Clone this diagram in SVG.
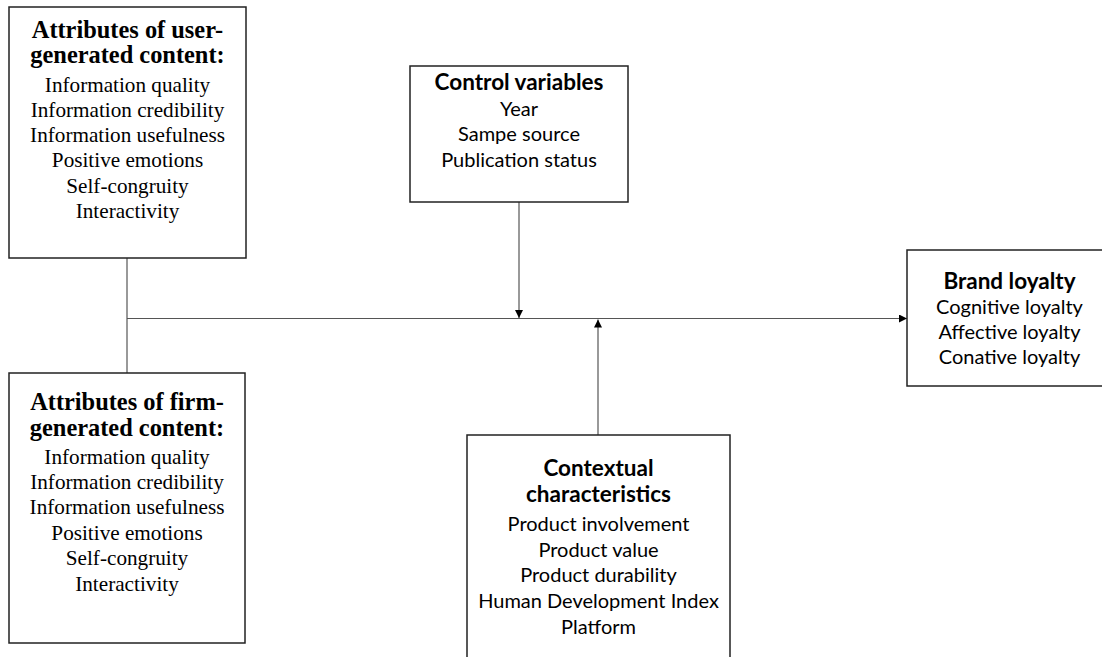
<svg xmlns="http://www.w3.org/2000/svg" width="1102" height="657" viewBox="0 0 1102 657">
<style>
.box{fill:#fff;stroke:#222;stroke-width:1.5}
.tb{font-family:"Liberation Serif","Times New Roman",serif;font-weight:bold;font-size:24.4px;fill:#000;text-anchor:middle}
.tr{font-family:"Liberation Serif","Times New Roman",serif;font-size:21.2px;fill:#000;text-anchor:middle}
.cb{font-family:Lato,"Liberation Sans",sans-serif;font-weight:bold;font-size:22.5px;fill:#000;text-anchor:middle}
.cr{font-family:Lato,"Liberation Sans",sans-serif;font-size:20px;fill:#000;text-anchor:middle}
.ln{stroke:#555;stroke-width:1.2;fill:none}
</style>
<defs>
<marker id="arr" viewBox="0 0 10 10" refX="10" refY="5" markerWidth="9" markerHeight="8" markerUnits="userSpaceOnUse" orient="auto">
<path d="M0,0 L10,5 L0,10 Z" fill="#000"/>
</marker>
</defs>
<rect width="1102" height="657" fill="#fff"/>
<g id="connectors">
<line class="ln" x1="127" y1="258" x2="127" y2="373"/>
<line class="ln" x1="127" y1="318.5" x2="907" y2="318.5" marker-end="url(#arr)"/>
<line class="ln" x1="519" y1="202" x2="519" y2="318" marker-end="url(#arr)"/>
<line class="ln" x1="598" y1="435" x2="598" y2="319.5" marker-end="url(#arr)"/>
</g>
<g id="ugc">
<rect class="box" x="9" y="7" width="237" height="251"/>
<text class="tb" x="127.5" y="38">Attributes of user-</text>
<text class="tb" x="127.5" y="63">generated content:</text>
<text class="tr" x="127.5" y="92">Information quality</text>
<text class="tr" x="127.5" y="117">Information credibility</text>
<text class="tr" x="127.5" y="142">Information usefulness</text>
<text class="tr" x="127.5" y="167">Positive emotions</text>
<text class="tr" x="127.5" y="193">Self-congruity</text>
<text class="tr" x="127.5" y="218">Interactivity</text>
</g>
<g id="fgc">
<rect class="box" x="9" y="373" width="236" height="270"/>
<text class="tb" x="127" y="410">Attributes of firm-</text>
<text class="tb" x="127" y="436">generated content:</text>
<text class="tr" x="127" y="464">Information quality</text>
<text class="tr" x="127" y="489">Information credibility</text>
<text class="tr" x="127" y="514">Information usefulness</text>
<text class="tr" x="127" y="540">Positive emotions</text>
<text class="tr" x="127" y="565">Self-congruity</text>
<text class="tr" x="127" y="591">Interactivity</text>
</g>
<g id="control">
<rect class="box" x="410" y="66" width="218" height="136"/>
<text class="cb" x="519" y="90">Control variables</text>
<text class="cr" x="519" y="115.5">Year</text>
<text class="cr" x="519" y="141">Sampe source</text>
<text class="cr" x="519" y="166.5">Publication status</text>
</g>
<g id="context">
<rect class="box" x="467" y="435" width="263" height="240"/>
<text class="cb" x="598.5" y="476">Contextual</text>
<text class="cb" x="598.5" y="502">characteristics</text>
<text class="cr" x="598.5" y="531">Product involvement</text>
<text class="cr" x="598.5" y="557">Product value</text>
<text class="cr" x="598.5" y="582">Product durability</text>
<text class="cr" x="598.5" y="608">Human Development Index</text>
<text class="cr" x="598.5" y="634">Platform</text>
</g>
<g id="brand">
<rect class="box" x="907" y="250" width="205" height="136"/>
<text class="cb" x="1009.5" y="289">Brand loyalty</text>
<text class="cr" x="1009.5" y="314">Cognitive loyalty</text>
<text class="cr" x="1009.5" y="339">Affective loyalty</text>
<text class="cr" x="1009.5" y="364">Conative loyalty</text>
</g>
</svg>
